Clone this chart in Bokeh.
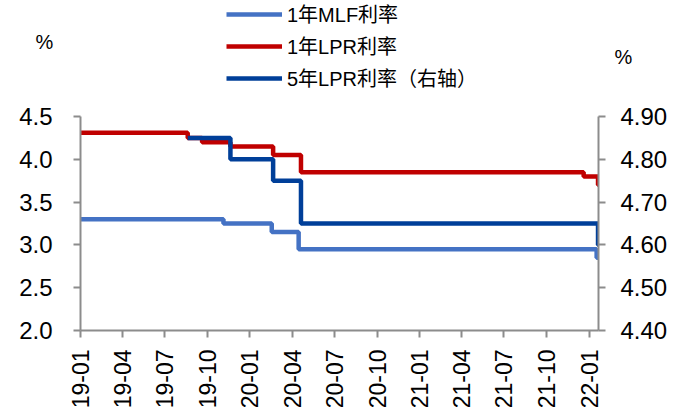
import pandas as pd
from math import pi
from bokeh.plotting import figure
from bokeh.layouts import column
from bokeh.models import (Range1d, LinearAxis, DatetimeAxis, FixedTicker, NumeralTickFormatter,
                          DatetimeTickFormatter, Legend, LegendItem, Label)
from bokeh.embed import file_html
from bokeh.resources import INLINE

# ---- data ----
mlf_dates = ["2019-01-01", "2019-11-05", "2020-02-17", "2020-04-15", "2022-01-17", "2022-01-21"]
mlf_vals = [3.30, 3.25, 3.15, 2.95, 2.85, 2.85]

lpr1_dates = ["2019-01-01", "2019-08-20", "2019-09-20", "2019-11-20", "2020-02-20", "2020-04-20",
              "2021-12-20", "2022-01-20", "2022-01-21"]
lpr1_vals = [4.31, 4.25, 4.20, 4.15, 4.05, 3.85, 3.80, 3.70, 3.70]

lpr5_dates = ["2019-08-20", "2019-11-20", "2020-02-20", "2020-04-20", "2022-01-20", "2022-01-21"]
lpr5_vals = [4.85, 4.80, 4.75, 4.65, 4.60, 4.60]

x_ticks = ["2019-01-01", "2019-04-01", "2019-07-01", "2019-10-01", "2020-01-01", "2020-04-01",
           "2020-07-01", "2020-10-01", "2021-01-01", "2021-04-01", "2021-07-01", "2021-10-01",
           "2022-01-01"]
left_ticks = [2.0, 2.5, 3.0, 3.5, 4.0, 4.5]
right_ticks = [4.40, 4.50, 4.60, 4.70, 4.80, 4.90]
series_names = ["1年MLF利率", "1年LPR利率", "5年LPR利率（右轴）"]
series_colors = ["#4472C4", "#C00000", "#003F99"]
unit_label = "%"

FONT = "Liberation Sans, Noto Sans CJK SC"
AXIS_COLOR = "#8C8C8C"
W, H_TOP, H_TOTAL = 688, 100, 416

def ms(d):
    return pd.Timestamp(d).value / 1e6

series = [(mlf_dates, mlf_vals, "default"), (lpr1_dates, lpr1_vals, "default"),
          (lpr5_dates, lpr5_vals, "right")]

# ---------- header strip: legend and unit labels ----------
top = figure(width=W, height=H_TOP, output_backend="svg", toolbar_location=None,
             x_range=Range1d(0, W), y_range=Range1d(0, H_TOP),
             x_axis_location=None, y_axis_location=None,
             min_border_left=0, min_border_right=0, min_border_top=0, min_border_bottom=0)
top.frame_align = False
top.outline_line_color = None
for g in top.grid:
    g.visible = False
# same series (outside this strip's view) give the legend its line samples
legend_rs = [top.step(pd.to_datetime(d), v, mode="after", line_color=c, line_width=4.5)
             for (d, v, _), c in zip(series, series_colors)]
legend = Legend(items=[LegendItem(label=n, renderers=[r]) for n, r in zip(series_names, legend_rs)],
                location=(226, H_TOP - 92), orientation="vertical",
                background_fill_alpha=0, border_line_color=None, padding=0, margin=0,
                spacing=3, glyph_width=56, glyph_height=24, label_height=24, label_standoff=5,
                label_text_font_size="20px", label_text_font=FONT, label_text_color="#000000")
top.add_layout(legend)
top.add_layout(Label(x=44, y=H_TOP - 41.5, x_units="screen", y_units="screen", text=unit_label,
                     text_align="center", text_baseline="middle", text_font=FONT,
                     text_font_size="20px", text_color="#000000"))
top.add_layout(Label(x=623, y=H_TOP - 56.5, x_units="screen", y_units="screen", text=unit_label,
                     text_align="center", text_baseline="middle", text_font=FONT,
                     text_font_size="20px", text_color="#000000"))

# ---------- main chart ----------
p = figure(width=W, height=H_TOTAL - H_TOP, output_backend="svg", toolbar_location=None,
           x_range=Range1d(ms("2019-01-01"), ms("2022-01-21")),
           y_range=Range1d(left_ticks[0], left_ticks[-1]),
           x_axis_location=None, y_axis_location=None,
           min_border_left=80, min_border_right=90, min_border_top=116 - H_TOP, min_border_bottom=86)
p.frame_align = False
p.extra_y_ranges = {"right": Range1d(right_ticks[0], right_ticks[-1])}
p.outline_line_color = None
for g in p.grid:
    g.visible = False

def style_axis(ax, standoff):
    ax.axis_line_color = AXIS_COLOR
    ax.axis_line_width = 2
    ax.major_tick_line_color = AXIS_COLOR
    ax.major_tick_line_width = 2
    ax.major_tick_out = 7
    ax.major_tick_in = 0
    ax.minor_tick_line_color = None
    ax.major_label_text_font = FONT
    ax.major_label_text_color = "#000000"
    ax.major_label_standoff = standoff

yl = LinearAxis(ticker=FixedTicker(ticks=left_ticks), formatter=NumeralTickFormatter(format="0.0"))
style_axis(yl, 21)
yl.major_label_text_font_size = "24px"
p.add_layout(yl, "left")

yr = LinearAxis(y_range_name="right", ticker=FixedTicker(ticks=right_ticks),
                formatter=NumeralTickFormatter(format="0.00"))
style_axis(yr, 15)
yr.major_label_text_font_size = "24px"
p.add_layout(yr, "right")

xa = DatetimeAxis(ticker=FixedTicker(ticks=[ms(d) for d in x_ticks]),
                  formatter=DatetimeTickFormatter(days="%y-%m", months="%y-%m", years="%y-%m",
                                                  context=None))
style_axis(xa, 12)
xa.major_label_text_font_size = "23px"
xa.major_label_orientation = pi / 2
p.add_layout(xa, "below")

for (d, v, rng), c in zip(series, series_colors):
    p.step(pd.to_datetime(d), v, mode="after", line_color=c, line_width=4.5, y_range_name=rng)

layout = column(top, p, spacing=0)
open("out.html", "w").write(file_html(layout, INLINE))
